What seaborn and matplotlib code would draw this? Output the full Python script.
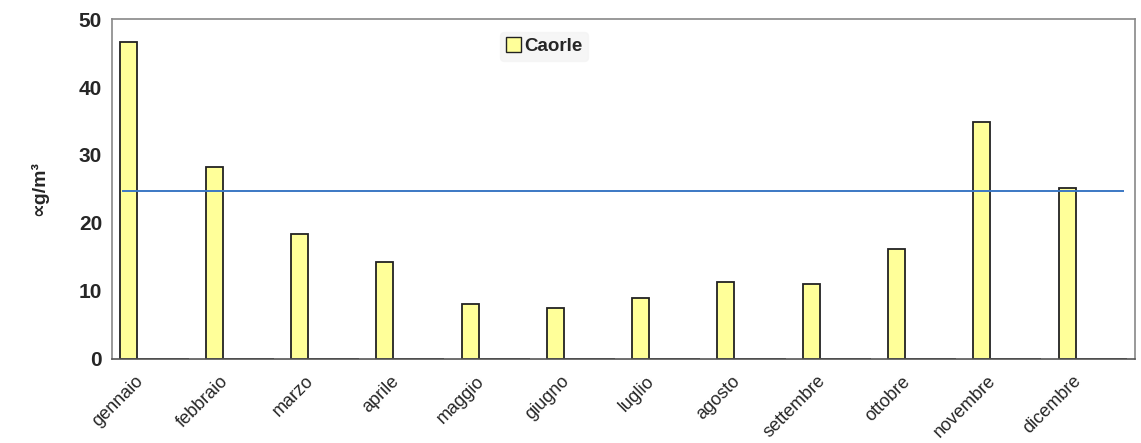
import numpy as np
import pandas as pd
import matplotlib
matplotlib.use("Agg")
import matplotlib.pyplot as plt
import matplotlib.transforms as mtransforms
from matplotlib.patches import Patch
from matplotlib.ticker import MultipleLocator, FixedLocator
import seaborn as sns

# monthly means, Caorle station (other series empty)
months = ["gennaio", "febbraio", "marzo", "aprile", "maggio", "giugno",
          "luglio", "agosto", "settembre", "ottobre", "novembre", "dicembre"]
caorle = [46.6, 28.2, 18.4, 14.3, 8.1, 7.5, 9.0, 11.3, 11.0, 16.2, 34.9, 25.1]
empty_series = ["s2", "s3", "s4"]
limit_value = 24.7

rows = []
for m, v in zip(months, caorle):
    rows.append((m, "Caorle", v))
    for s in empty_series:
        rows.append((m, s, 0.0))
df = pd.DataFrame(rows, columns=["mese", "serie", "valore"])

sns.set_style("white")
plt.rcParams['font.family'] = ['Liberation Sans', 'DejaVu Sans']

fig = plt.figure(figsize=(11.41, 4.43), dpi=100)
ax = fig.add_axes([0.098, 0.19, 0.897, 0.767])

palette = {"Caorle": "#ffff99", "s2": "#9ec8e8", "s3": "#f2a65a", "s4": "#9aa0a6"}
sns.barplot(data=df, x="mese", y="valore", hue="serie", order=months,
            hue_order=["Caorle"] + empty_series, palette=palette, saturation=1,
            edgecolor="#222222", linewidth=1.3, gap=0, width=0.8,
            legend=False, ax=ax)

ax.hlines(limit_value, -0.38, 11.37, color="#3b78c4", linewidth=1.4, zorder=5)

ax.set_xlim(-0.5, 11.5)
ax.set_ylim(0, 50)
ax.yaxis.set_major_locator(MultipleLocator(10))
ax.yaxis.set_minor_locator(MultipleLocator(5))
ax.xaxis.set_minor_locator(FixedLocator(np.arange(-0.5, 12, 1)))
ax.tick_params(axis="x", which="major", length=0, pad=10)
ax.tick_params(axis="x", which="minor", length=5, direction="out", color="#777777")
ax.tick_params(axis="y", which="both", length=5, direction="out", color="#777777")
ax.tick_params(axis="y", labelsize=15, pad=2)
for lab in ax.get_yticklabels():
    lab.set_fontweight("bold")
ax.set_xticks(range(len(months)))
ax.set_xticklabels(months, rotation=45, ha="right", rotation_mode="anchor", fontsize=13)
shift = mtransforms.ScaledTranslation(-20 / 100, 0, fig.dpi_scale_trans)
for lab in ax.get_xticklabels():
    lab.set_transform(lab.get_transform() + shift)

for sp in ax.spines.values():
    sp.set_color("#888888")
    sp.set_linewidth(1.2)
ax.spines["bottom"].set_color("#555555")

ax.set_xlabel("")
ax.set_ylabel("∝g/m³", fontsize=14, fontweight="bold", labelpad=22)

leg = ax.legend(handles=[Patch(facecolor="#ffff99", edgecolor="#222222", label="Caorle")],
                loc="upper left", bbox_to_anchor=(0.37, 0.99), frameon=True,
                prop={"weight": "bold", "size": 13.5}, handlelength=0.8,
                handleheight=0.8, handletextpad=0.2, borderpad=0.3)
leg.get_frame().set_facecolor("#f4f4f4")
leg.get_frame().set_edgecolor("#f4f4f4")

fig.savefig("out.png", dpi=100)
